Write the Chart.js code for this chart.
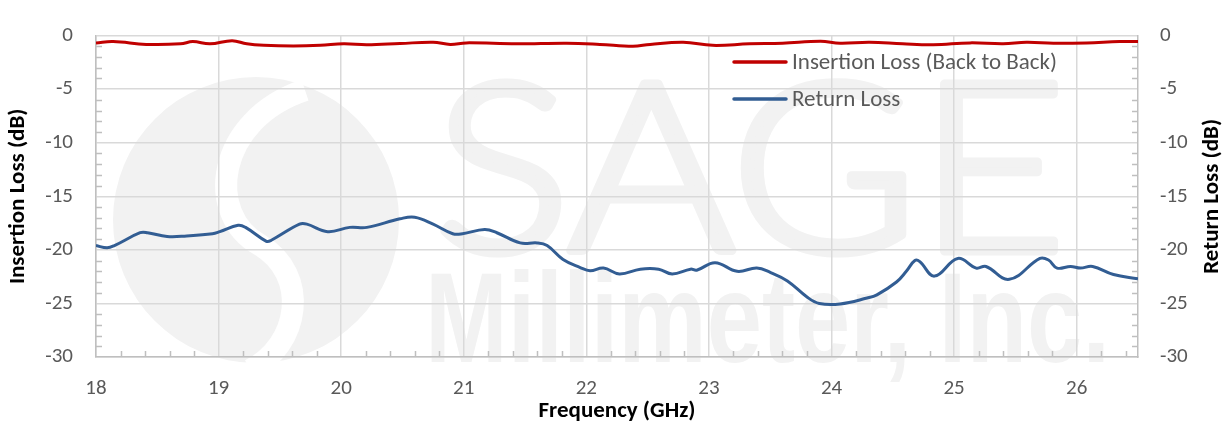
<!DOCTYPE html>
<html>
<head>
<meta charset="utf-8">
<script src="https://cdn.jsdelivr.net/npm/chart.js@4"></script>
<style>
  html, body { margin: 0; padding: 0; background: #ffffff; }
  #wrap { width: 1228px; height: 426px; position: relative; }
</style>
</head>
<body>
<div id="wrap"><canvas id="chart"></canvas></div>
<script>
// Frequency axis ticks (GHz) and dB ticks
const xTickValues = [18, 19, 20, 21, 22, 23, 24, 25, 26];
const yTickValues = [0, -5, -10, -15, -20, -25, -30];

// Insertion Loss (Back to Back)
const ilFreq = [18.0, 18.14, 18.41, 18.69, 18.79, 18.93, 19.11, 19.23, 19.37, 19.61, 19.83, 20.02, 20.21, 20.48,
  20.75, 20.89, 21.02, 21.43, 21.84, 22.11, 22.38, 22.52, 22.79, 23.03, 23.33, 23.6, 23.91,
  24.07, 24.31, 24.58, 24.83, 25.13, 25.4, 25.59, 25.81, 26.08, 26.35, 26.5];
const ilValues = [-0.68, -0.56, -0.82, -0.77, -0.56, -0.77, -0.47, -0.77, -0.91, -0.97, -0.91, -0.77, -0.86, -0.74,
  -0.62, -0.82, -0.68, -0.77, -0.71, -0.82, -1.0, -0.82, -0.62, -0.91, -0.77, -0.71, -0.53,
  -0.71, -0.62, -0.77, -0.86, -0.68, -0.77, -0.62, -0.71, -0.68, -0.56, -0.56];

// Return Loss
const rlFreq = [18.0, 18.09, 18.15, 18.36, 18.42, 18.58, 18.74, 18.95, 19.01, 19.16, 19.22, 19.39, 19.43,
  19.66, 19.72, 19.89, 20.07, 20.21, 20.48, 20.6, 20.75, 20.91, 20.99, 21.17, 21.27, 21.46, 21.6,
  21.68, 21.81, 21.95, 22.03, 22.14, 22.27, 22.44, 22.59, 22.7, 22.85, 22.9, 23.05, 23.23, 23.39,
  23.5, 23.64, 23.8, 23.9, 24.07, 24.29, 24.37, 24.53, 24.61, 24.68, 24.72, 24.84, 25.03, 25.18,
  25.26, 25.45, 25.7, 25.77, 25.84, 25.95, 26.03, 26.13, 26.3, 26.5];
const rlValues = [-19.6, -19.8, -19.6, -18.4, -18.4, -18.75, -18.7, -18.5, -18.3, -17.7, -17.9, -19.2, -19.1,
  -17.6, -17.6, -18.3, -17.9, -17.9, -17.1, -16.95, -17.6, -18.5, -18.5, -18.1, -18.4, -19.35, -19.35,
  -19.6, -20.9, -21.65, -21.95, -21.7, -22.25, -21.8, -21.8, -22.25, -21.8, -21.9, -21.2, -22.0, -21.7,
  -22.1, -22.9, -24.4, -25.0, -25.05, -24.5, -24.2, -23.0, -22.0, -21.0, -21.1, -22.45, -20.8, -21.7,
  -21.55, -22.75, -20.8, -20.95, -21.7, -21.55, -21.7, -21.55, -22.3, -22.7];

const labelFont = "Carlito, Lato, 'Open Sans', sans-serif";
const tickGray = '#595959';

// light SAGE Millimeter watermark behind the grid
const watermark = {
  id: 'watermark',
  beforeDraw(chart) {
    const ctx = chart.ctx;
    ctx.save();
    ctx.fillStyle = '#f2f2f2';
    ctx.beginPath();
    ctx.ellipse(256, 220, 143, 143, 0, 0, Math.PI * 2);
    ctx.fill();
    ctx.strokeStyle = '#ffffff';
    ctx.lineWidth = 22;
    ctx.beginPath();
    ctx.moveTo(305, 90);
    ctx.bezierCurveTo(215, 120, 205, 215, 260, 245);
    ctx.bezierCurveTo(310, 275, 300, 345, 250, 370);
    ctx.stroke();

    ctx.fillStyle = '#f2f2f2';
    ctx.strokeStyle = '#f2f2f2';
    ctx.lineWidth = 9;
    ctx.lineJoin = 'round';
    ctx.textBaseline = 'alphabetic';
    ctx.font = "300 236px Lato, sans-serif";
    let w = ctx.measureText('SAGE').width;
    ctx.translate(434, 251);
    ctx.scale(632 / w, 1);
    ctx.fillText('SAGE', 0, 0);
    ctx.strokeText('SAGE', 0, 0);
    ctx.restore();

    ctx.save();
    ctx.fillStyle = '#f2f2f2';
    ctx.font = "bold 128px 'Liberation Sans', sans-serif";
    w = ctx.measureText('Millimeter, Inc.').width;
    ctx.translate(425, 362);
    ctx.scale(685 / w, 1);
    ctx.fillText('Millimeter, Inc.', 0, 0);
    ctx.restore();
  }
};

// minor ticks, right axis title and in-plot legend
const extras = {
  id: 'extras',
  afterDatasetsDraw(chart) {
    const ctx = chart.ctx;
    const x = chart.scales.x, y = chart.scales.y;
    const a = chart.chartArea;
    ctx.save();
    ctx.strokeStyle = '#bfbfbf';
    ctx.lineWidth = 1.5;
    ctx.beginPath();
    for (let i = 1; i < 43; i++) {
      if (i % 5 === 0) continue;
      const px = Math.round(x.getPixelForValue(18 + i * 0.2)) + 0.5;
      ctx.moveTo(px, a.bottom);
      ctx.lineTo(px, a.bottom - 6);
    }
    for (let v = -29; v < 0; v++) {
      if (v % 5 === 0) continue;
      const py = Math.round(y.getPixelForValue(v)) + 0.5;
      ctx.moveTo(a.left, py);
      ctx.lineTo(a.left + 6, py);
      ctx.moveTo(a.right, py);
      ctx.lineTo(a.right - 6, py);
    }
    ctx.stroke();

    // right axis title, reading bottom to top like the left one
    ctx.fillStyle = '#000000';
    ctx.font = "bold 23px " + labelFont;
    ctx.textAlign = 'center';
    ctx.textBaseline = 'middle';
    ctx.translate(1212, (a.top + a.bottom) / 2);
    ctx.rotate(-Math.PI / 2);
    ctx.fillText('Return Loss (dB)', 0, 0);
    ctx.restore();

    // legend
    ctx.save();
    ctx.font = "23px " + labelFont;
    ctx.textBaseline = 'middle';
    ctx.fillStyle = tickGray;
    ctx.lineWidth = 3.5;
    ctx.lineCap = 'round';
    const rows = [62, 99];
    chart.data.datasets.forEach((ds, i) => {
      ctx.strokeStyle = ds.borderColor;
      ctx.beginPath();
      ctx.moveTo(734, rows[i]);
      ctx.lineTo(786, rows[i]);
      ctx.stroke();
      ctx.fillText(ds.label, 792, rows[i] + 1);
    });
    ctx.restore();
  }
};

const toPoints = (xs, ys) => xs.map((f, i) => ({ x: f, y: ys[i] }));

new Chart(document.getElementById('chart'), {
  type: 'line',
  data: {
    datasets: [{
      label: 'Insertion Loss (Back to Back)',
      data: toPoints(ilFreq, ilValues),
      borderColor: '#c00000',
      borderWidth: 3,
      pointRadius: 0,
      tension: 0.4,
      yAxisID: 'y'
    }, {
      label: 'Return Loss',
      data: toPoints(rlFreq, rlValues),
      borderColor: '#325d93',
      borderWidth: 3,
      pointRadius: 0,
      tension: 0.4,
      yAxisID: 'y1'
    }]
  },
  options: {
    responsive: true,
    maintainAspectRatio: false,
    animation: false,
    layout: { padding: { top: 18, left: 0, right: 0, bottom: 0 } },
    plugins: { legend: { display: false }, tooltip: { enabled: false } },
    scales: {
      x: {
        type: 'linear',
        min: 18,
        max: 26.5,
        afterBuildTicks: s => { s.ticks = xTickValues.map(v => ({ value: v })); },
        afterFit: s => { s.height = 69; },
        grid: { color: '#d9d9d9', lineWidth: 1.5, drawTicks: false },
        border: { color: '#bfbfbf', width: 1.5 },
        ticks: { color: tickGray, font: { family: labelFont, size: 21 }, padding: 19, maxRotation: 0 },
        title: {
          display: true, text: 'Frequency (GHz)', color: '#000000',
          font: { family: labelFont, size: 23, weight: 'bold' }, padding: { top: 0, bottom: 1 }
        }
      },
      y: {
        position: 'left',
        min: -30,
        max: 0,
        afterBuildTicks: s => { s.ticks = yTickValues.map(v => ({ value: v })); },
        afterFit: s => { s.width = 96; },
        grid: { color: '#d9d9d9', lineWidth: 1.5, drawTicks: false },
        border: { color: '#bfbfbf', width: 1.5 },
        ticks: { color: tickGray, font: { family: labelFont, size: 21 }, padding: 23, callback: v => String(v) },
        title: {
          display: true, text: 'Insertion Loss (dB)', color: '#000000',
          font: { family: labelFont, size: 23, weight: 'bold' }, padding: { top: 4, bottom: 0 }
        }
      },
      y1: {
        position: 'right',
        min: -30,
        max: 0,
        afterBuildTicks: s => { s.ticks = yTickValues.map(v => ({ value: v })); },
        afterFit: s => { s.width = 90; },
        grid: { display: false, drawTicks: false },
        border: { color: '#bfbfbf', width: 1.5 },
        ticks: { color: tickGray, font: { family: labelFont, size: 21 }, padding: 22, callback: v => String(v) }
      }
    }
  },
  plugins: [watermark, extras]
});
</script>
</body>
</html>
